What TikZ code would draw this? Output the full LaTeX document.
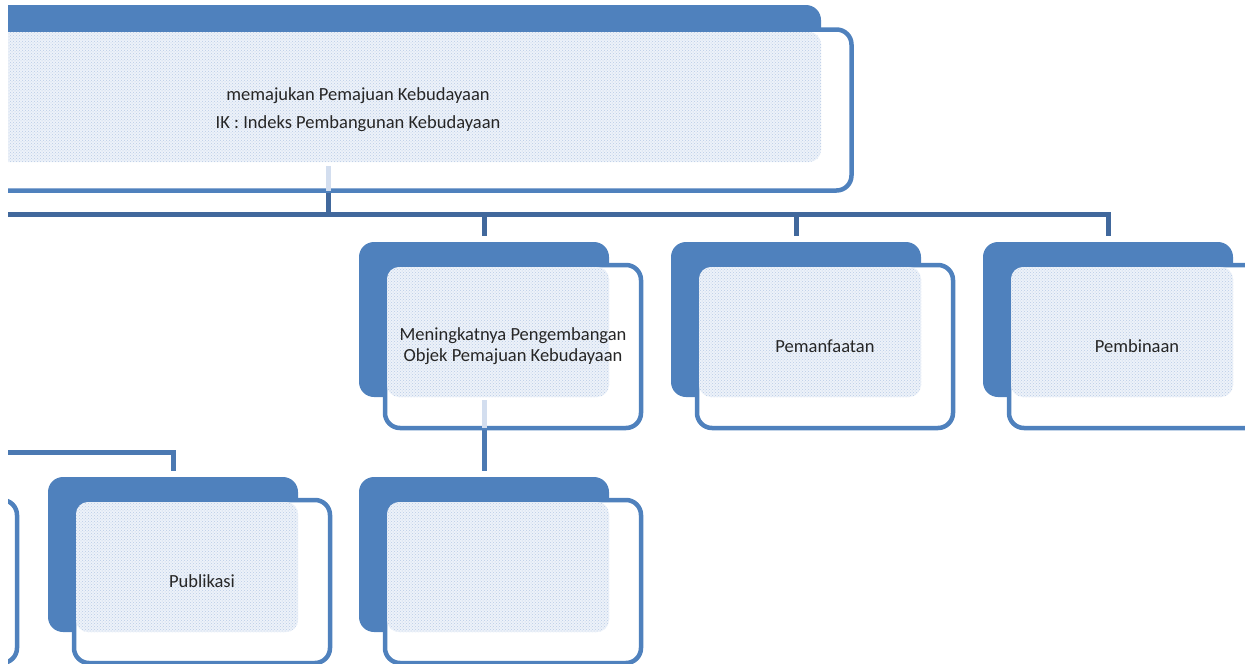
\documentclass[tikz,border=0pt]{standalone}
\usepackage{fontspec}
\setmainfont{Carlito}
\usetikzlibrary{patterns}
\definecolor{bk}{HTML}{4F81BD}
\definecolor{cdark}{HTML}{41689C}
\definecolor{cmid}{HTML}{4B79B2}
\definecolor{pt}{HTML}{EDF2F9}
\definecolor{ptdot}{HTML}{B9CBE6}
\definecolor{ptd}{HTML}{D3DEEF}
\tikzset{
  backbox/.style={fill=bk, rounded corners=15pt},
  frontbox/.style={fill=white, draw=bk, line width=4.5pt, rounded corners=15pt},
  pattbox/.style={fill=pt, rounded corners=12pt},
  dotbox/.style={pattern=crosshatch dots, pattern color=ptdot, rounded corners=12pt},
  conn/.style={draw=cdark, line width=5pt},
  conn2/.style={draw=cmid, line width=5pt},
  faint/.style={draw=ptd, line width=5pt},
  lbl/.style={font=\fontsize{18.5}{21}\selectfont, align=center, text=black!85}
}
\newcommand\elembox[4]{%
  \begin{scope}[shift={(#2,#3)}]
    \fill[backbox] (0,0) rectangle (250,155);
    \draw[frontbox] (26,23) rectangle (282,186);
    \fill[pattbox] (28,25) rectangle (250,155);
    \fill[dotbox] (28,25) rectangle (250,155);
    \node[lbl] (#1) at (154,104.5) {#4};
    \coordinate (#1-t) at (125,-6);
    \coordinate (#1-b) at (125,186);
    \coordinate (#1-f) at (125,158);
  \end{scope}}
\begin{document}
\begin{tikzpicture}[x=1pt,y=-1pt]
\useasboundingbox (0,0) rectangle (1245,664);
\clip (8,0) rectangle (1245,664);
% coordinates of boxes (for connectors)
\coordinate (top-b) at (328,190.5);
\coordinate (top-f) at (328,166);
\coordinate (busL) at (0,214.5);
\coordinate (busL2) at (0,452);
\path (484,236) coordinate (A-t) (484,428) coordinate (A-b)
      (796,236) coordinate (B-t) (1108,236) coordinate (C-t)
      (484,471) coordinate (D-t) (173,471) coordinate (E-t);
% connectors
\draw[conn] (top-b) -- (top-b |- busL);
\draw[conn, line join=miter] (busL) -| (C-t);
\draw[conn] (A-t |- busL) -- (A-t);
\draw[conn] (B-t |- busL) -- (B-t);
\draw[conn2] (A-b) -- (D-t);
\draw[conn2, line join=miter] (busL2) -| (E-t);
% top box
\fill[backbox] (-400,5) rectangle (821,162);
\draw[frontbox] (-400,29.5) rectangle (851.5,190.5);
\fill[pattbox] (-400,32) rectangle (821,162);
\fill[dotbox] (-400,32) rectangle (821,162);
\node[lbl, font=\fontsize{18.5}{28}\selectfont] (top) at (358,110)
  {memajukan Pemajuan Kebudayaan\\IK : Indeks Pembangunan Kebudayaan};
% middle row
\elembox{A}{359}{242}{Meningkatnya Pengembangan\\Objek Pemajuan Kebudayaan}
\elembox{B}{671}{242}{Pemanfaatan}
\elembox{C}{983}{242}{Pembinaan}
% bottom row
\elembox{F}{-265}{477}{}
\elembox{E}{48}{477}{Publikasi}
\elembox{D}{359}{477}{}
% faint connector parts seen through boxes
\draw[faint] (top-f) -- (top-b);
\draw[faint] (A-f) -- (A-b);
\end{tikzpicture}
\end{document}
